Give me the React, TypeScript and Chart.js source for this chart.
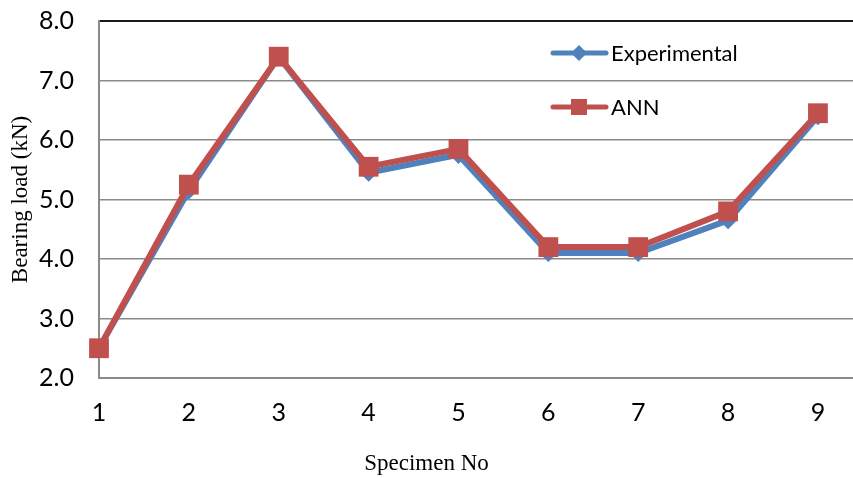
import React, { useEffect, useRef } from "react";
import { Chart, registerables } from "chart.js";

Chart.register(...registerables);

const specimenNos = [1, 2, 3, 4, 5, 6, 7, 8, 9];
const experimental = [2.5, 5.15, 7.4, 5.45, 5.75, 4.1, 4.1, 4.65, 6.4];
const ann = [2.5, 5.25, 7.4, 5.55, 5.85, 4.2, 4.2, 4.8, 6.45];
const yTicks = [2, 3, 4, 5, 6, 7, 8];
const xTitle = "Specimen No";
const yTitle = "Bearing load (kN)";

const BLUE = "#4F81BD";
const RED = "#C0504D";
const TICK_FONT = "Lato";

const legendPlugin = {
  id: "insideLegend",
  afterDraw(chart: any) {
    const ctx = chart.ctx;
    const items = [
      { label: "Experimental", color: BLUE, style: "diamond", y: 53 },
      { label: "ANN", color: RED, style: "square", y: 107 },
    ];
    ctx.save();
    for (const it of items) {
      ctx.strokeStyle = it.color;
      ctx.lineWidth = 5;
      ctx.lineCap = "round";
      ctx.beginPath();
      ctx.moveTo(553, it.y);
      ctx.lineTo(606, it.y);
      ctx.stroke();
      ctx.fillStyle = it.color;
      if (it.style === "diamond") {
        ctx.beginPath();
        ctx.moveTo(579, it.y - 8);
        ctx.lineTo(587, it.y);
        ctx.lineTo(579, it.y + 8);
        ctx.lineTo(571, it.y);
        ctx.closePath();
        ctx.fill();
      } else {
        ctx.fillRect(571, it.y - 8, 16, 16);
      }
      ctx.fillStyle = "#000";
      ctx.font = `22px ${TICK_FONT}`;
      ctx.textBaseline = "middle";
      ctx.textAlign = "left";
      ctx.fillText(it.label, 611, it.y + 1);
    }
    // x-axis title, centred on the whole canvas
    ctx.font = `23px "Liberation Serif"`;
    ctx.textAlign = "center";
    ctx.textBaseline = "middle";
    ctx.fillStyle = "#000";
    ctx.fillText(xTitle, chart.width / 2, 464);
    ctx.restore();
  },
};

export default function App() {
  const ref = useRef<HTMLCanvasElement>(null);
  useEffect(() => {
    document.body.style.margin = "0";
    const chart = new Chart(ref.current!, {
      type: "line",
      data: {
        datasets: [
          {
            label: "Experimental",
            data: specimenNos.map((x, i) => ({ x, y: experimental[i] })),
            borderColor: BLUE,
            backgroundColor: BLUE,
            borderWidth: 6,
            pointStyle: "rectRot",
            pointRadius: 9,
            pointHoverRadius: 9,
            pointBorderWidth: 0,
            tension: 0,
            clip: false as any,
            order: 1,
          },
          {
            label: "ANN",
            data: specimenNos.map((x, i) => ({ x, y: ann[i] })),
            borderColor: RED,
            backgroundColor: RED,
            borderWidth: 6,
            pointStyle: "rect",
            pointRadius: 14,
            pointHoverRadius: 14,
            pointBorderWidth: 0,
            tension: 0,
            clip: false as any,
            order: 0,
          },
        ],
      },
      options: {
        responsive: false,
        animation: false,
        layout: { autoPadding: false, padding: { top: 21, right: 0, left: 0, bottom: 0 } },
        plugins: { legend: { display: false }, tooltip: { enabled: false } },
        scales: {
          x: {
            type: "linear",
            min: 1,
            max: 9.39,
            afterBuildTicks(scale: any) {
              scale.ticks = specimenNos.map((v) => ({ value: v }));
            },
            afterFit(scale: any) {
              scale.height = 100;
              scale.paddingLeft = 0;
              scale.paddingRight = 0;
            },
            grid: { display: false, drawTicks: false },
            border: { display: true, color: "#8a8a8a", width: 2 },
            ticks: {
              padding: 20,
              color: "#000",
              font: { family: TICK_FONT, size: 25 },
              callback: (v: any) => String(v),
              maxRotation: 0,
            },
            title: { display: false, text: xTitle },
          },
          y: {
            min: 2,
            max: 8,
            afterBuildTicks(scale: any) {
              scale.ticks = yTicks.map((v) => ({ value: v }));
            },
            afterFit(scale: any) {
              scale.width = 99;
              scale.paddingTop = 0;
              scale.paddingBottom = 0;
            },
            grid: {
              drawTicks: false,
              color: (c: any) => (c.tick && c.tick.value === 8 ? "#1a1a1a" : "#8a8a8a"),
              lineWidth: (c: any) => (c.tick && c.tick.value === 8 ? 2 : 1.5),
            },
            border: { display: true, color: "#8a8a8a", width: 2 },
            ticks: {
              padding: 25,
              color: "#000",
              font: { family: TICK_FONT, size: 25 },
              callback: (v: any) => Number(v).toFixed(1),
            },
            title: {
              display: true,
              text: yTitle,
              color: "#000",
              font: { family: "Liberation Serif", size: 23 },
              padding: { top: 7, bottom: 0 },
            },
          },
        },
      },
      plugins: [legendPlugin],
    });
    return () => chart.destroy();
  }, []);
  return <canvas ref={ref} width={853} height={478} style={{ display: "block" }} />;
}
